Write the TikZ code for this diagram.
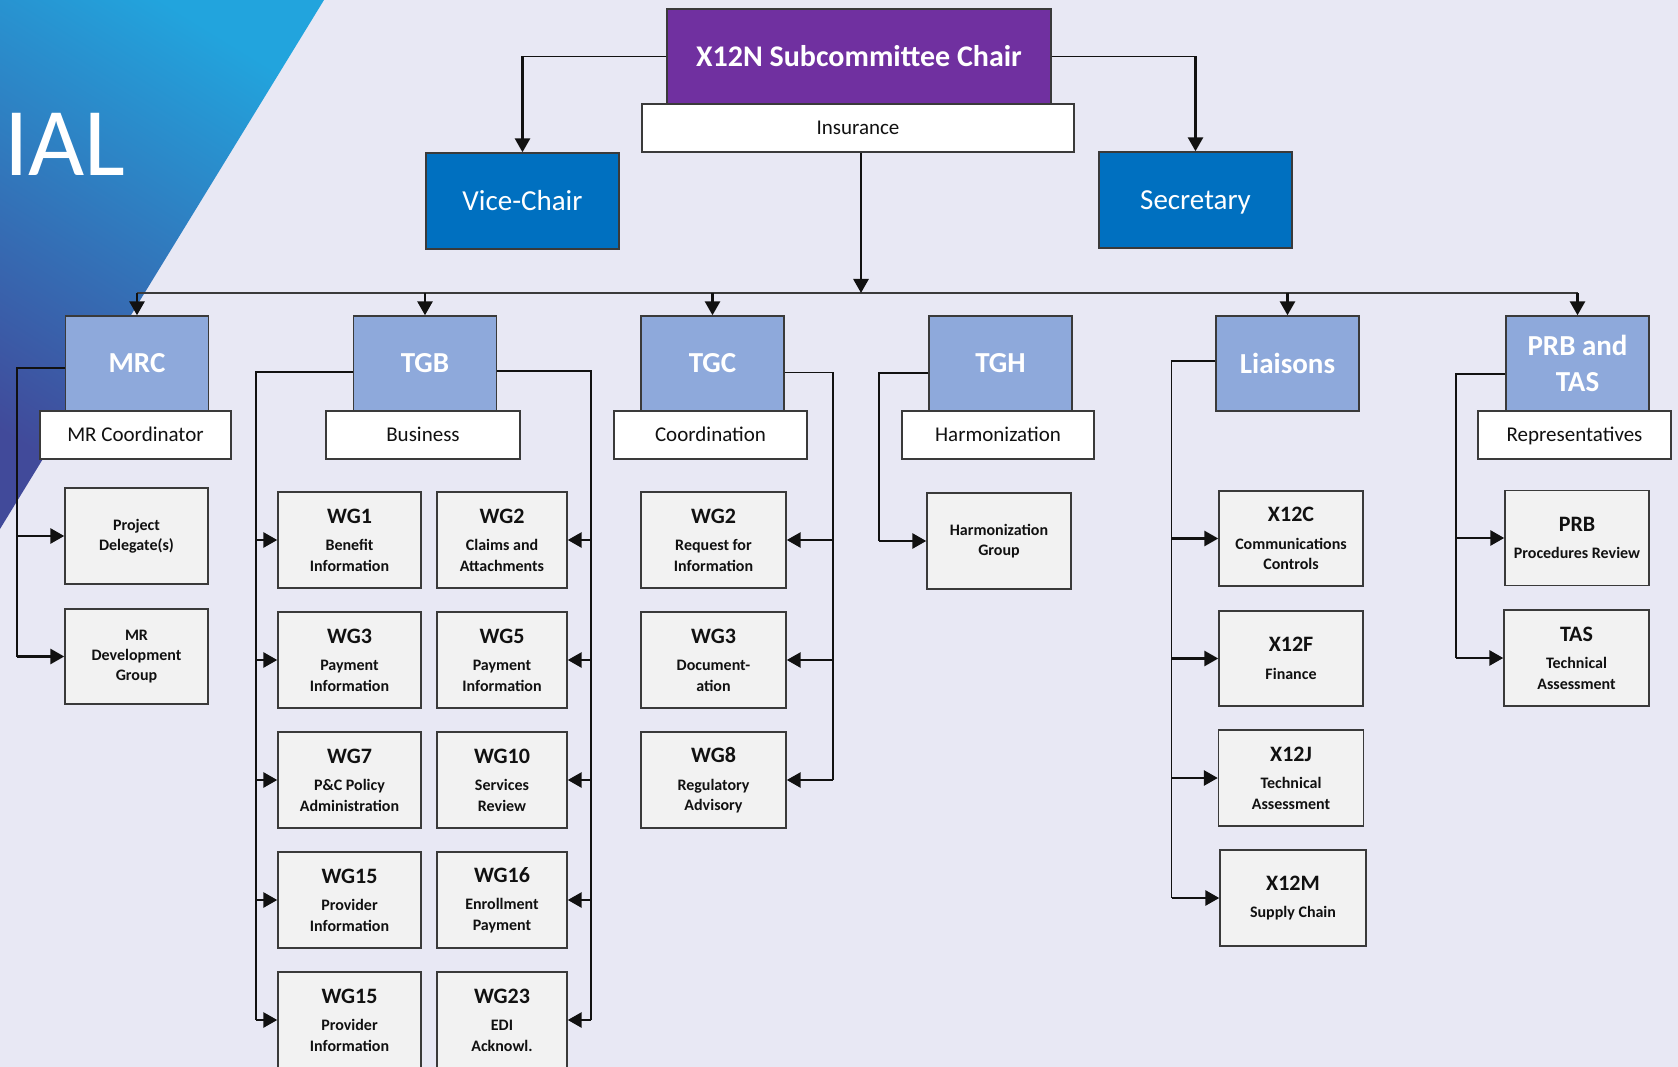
\documentclass[tikz,border=0pt]{standalone}
\usepackage{fontspec}
\setmainfont{Carlito}
\usetikzlibrary{arrows.meta,calc}
\definecolor{bg}{HTML}{E8E8F4}
\definecolor{purp}{HTML}{7030A0}
\definecolor{offblue}{HTML}{0070C0}
\definecolor{grpblue}{HTML}{8EA9DB}
\definecolor{subgray}{HTML}{F2F2F2}
\definecolor{bord}{HTML}{3A3A3A}
\definecolor{triT}{HTML}{22A4DD}
\definecolor{triB}{HTML}{414A9A}
\definecolor{ink}{HTML}{111111}
\newcommand{\wgt}[1]{{\fontsize{22}{20.3}\selectfont #1}\\[7.4pt]}
\begin{document}
\begin{tikzpicture}[x=1pt,y=-1pt,
  box/.style={draw=bord, line width=1.4pt, inner sep=0pt, align=center},
  chairbox/.style={box, fill=purp, text=white, minimum width=384pt, minimum height=95pt, font=\fontsize{30}{36}\selectfont\bfseries, text height=19.3pt, text depth=0pt},
  offbox/.style={box, fill=offblue, text=white, minimum width=193pt, minimum height=96pt, font=\fontsize{29}{34}\selectfont, text height=18.7pt, text depth=0pt},
  grpbox/.style={box, fill=grpblue, text=white, minimum width=143pt, minimum height=95pt, font=\fontsize{29}{36}\selectfont\bfseries},
  labbox/.style={box, fill=white, text=ink, minimum width=193pt, minimum height=48pt, font=\fontsize{21}{25}\selectfont, text height=13.5pt, text depth=0pt},
  subbox/.style={box, fill=subgray, text=ink, minimum height=96pt, font=\fontsize{16}{20.3}\selectfont\bfseries},
  trunk/.style={draw=ink, line width=1.5pt},
  busline/.style={draw=bord, line width=2pt},
  stub/.style={draw=ink, line width=2.8pt, -{Triangle[length=14pt,width=15pt]}}
]
\useasboundingbox (0,0) rectangle (1678,1067);
\clip (0,0) rectangle (1678,1067);
\fill[bg] (0,0) rectangle (1678,1067);
% gradient triangle
\begin{scope}
  \clip (0,0) -- (324,0) -- (0,529) -- cycle;
  \shade[bottom color=triB, top color=triT, shading angle=-31.5] (0,0) rectangle (324,529);
\end{scope}
\node[anchor=base west, inner sep=0pt, text=white, font=\fontsize{97}{97}\selectfont] (ial) at (4,176) {IAL};

% top level
\node[chairbox] (chair) at (859,56.5) {X12N Subcommittee Chair};
\node[labbox, minimum width=432pt] (ins) at (858,128) {Insurance};
\node[offbox] (vice) at (522.5,201) {Vice-Chair};
\node[offbox] (sec) at (1195.5,200) {Secretary};

% groups
\node[grpbox] (mrc) at (137,363.5) {MRC};
\node[grpbox] (tgb) at (425,363.5) {TGB};
\node[grpbox] (tgc) at (712.5,363.5) {TGC};
\node[grpbox] (tgh) at (1000.5,363.5) {TGH};
\node[grpbox] (lia) at (1287.5,363.5) {Liaisons};
\node[grpbox] (prb) at (1577.5,363.5) {PRB and\\TAS};

\node[labbox, minimum width=191pt] (mrcl) at (135.5,435) {MR Coordinator};
\node[labbox, minimum width=194pt] (tgbl) at (423,435) {Business};
\node[labbox] (tgcl) at (710.5,435) {Coordination};
\node[labbox, minimum width=192pt] (tghl) at (998,435) {Harmonization};
\node[labbox] (prbl) at (1574.5,435) {Representatives};

% MRC children
\node[subbox, minimum width=143pt] (m1) at (136.5,536) {Project\\Delegate(s)};
\node[subbox, minimum width=143pt, minimum height=95pt] (m2) at (136.5,656.5) {MR\\Development\\Group};

% TGB children
\node[subbox, minimum width=143pt] (b1) at (349.5,540) {\wgt{WG1}Benefit\\Information};
\node[subbox, minimum width=143pt] (b3) at (349.5,660) {\wgt{WG3}Payment\\Information};
\node[subbox, minimum width=143pt] (b7) at (349.5,780) {\wgt{WG7}P\&C Policy\\Administration};
\node[subbox, minimum width=143pt] (b15) at (349.5,900) {\wgt{WG15}Provider\\Information};
\node[subbox, minimum width=143pt] (b15b) at (349.5,1020) {\wgt{WG15}Provider\\Information};
\node[subbox, minimum width=130pt] (b2) at (502,540) {\wgt{WG2}Claims and\\Attachments};
\node[subbox, minimum width=130pt] (b5) at (502,660) {\wgt{WG5}Payment\\Information};
\node[subbox, minimum width=130pt] (b10) at (502,780) {\wgt{WG10}Services\\Review};
\node[subbox, minimum width=130pt] (b16) at (502,900) {\wgt{WG16}Enrollment\\Payment};
\node[subbox, minimum width=130pt] (b23) at (502,1020) {\wgt{WG23}EDI\\Acknowl.};

% TGC children
\node[subbox, minimum width=145pt] (c2) at (713.5,540) {\wgt{WG2}Request for\\Information};
\node[subbox, minimum width=145pt] (c3) at (713.5,660) {\wgt{WG3}Document-\\ation};
\node[subbox, minimum width=145pt] (c8) at (713.5,780) {\wgt{WG8}Regulatory\\Advisory};

% TGH child
\node[subbox, minimum width=144pt] (h1) at (999,541) {Harmonization\\Group};

% Liaisons children
\node[subbox, minimum width=144pt, minimum height=95pt] (l1) at (1291,538.5) {\wgt{X12C}Communications\\Controls};
\node[subbox, minimum width=144pt, minimum height=95pt] (l2) at (1291,658.5) {\wgt{X12F}Finance};
\node[subbox, minimum width=145pt] (l3) at (1291,778) {\wgt{X12J}Technical\\Assessment};
\node[subbox, minimum width=146pt] (l4) at (1293,898) {\wgt{X12M}Supply Chain};

% PRB children
\node[subbox, minimum width=144pt, minimum height=95pt] (p1) at (1577,538) {\wgt{PRB}Procedures Review};
\node[subbox, minimum width=145pt] (p2) at (1576.5,658) {\wgt{TAS}Technical\\Assessment};

% connectors: chair
\coordinate (vc) at (vice.north |- chair.west);
\draw[trunk] (chair.west) -- (vc);
\draw[stub] (vc) -- (vice.north);
\coordinate (sc) at (sec.north |- chair.east);
\draw[trunk] (chair.east) -- (sc);
\draw[stub] (sc) -- (sec.north);

% bus
\coordinate (busy) at (0,293);
\draw[busline] (mrc.north |- busy) -- (prb.north |- busy);
\draw[stub] ([xshift=3pt]ins.south) -- ([xshift=3pt]ins.south |- busy);
\foreach \g in {mrc,tgb,tgc,lia,prb}
  \draw[stub] (\g.north |- busy) -- (\g.north);

% MRC
\coordinate (mrcx) at (17,0);
\draw[trunk] ([yshift=-4.5pt]mrc.west) -| (mrcx |- m2.west);
\foreach \n in {m1,m2} \draw[stub] (mrcx |- \n.west) -- (\n.west);

% TGB
\coordinate (tgbL) at (256,0);
\coordinate (tgbR) at (591,0);
\draw[trunk] ([yshift=-8.5pt]tgb.west) -| (tgbL |- b15b.west);
\foreach \n in {b1,b3,b7,b15,b15b} \draw[stub] (tgbL |- \n.west) -- (\n.west);
\draw[trunk] ([yshift=-7.5pt]tgb.east) -| (tgbR |- b23.east);
\foreach \n in {b2,b5,b10,b16,b23} \draw[stub] (tgbR |- \n.east) -- (\n.east);

% TGC
\coordinate (tgcR) at (833,0);
\draw[trunk] ([yshift=-9pt]tgc.east) -| (tgcR |- c8.east);
\foreach \n in {c2,c3,c8} \draw[stub] (tgcR |- \n.east) -- (\n.east);

% TGH
\coordinate (tghL) at (879,0);
\draw[trunk] ([yshift=-9.5pt]tgh.west) -| (tghL |- h1.west);
\draw[stub] (tghL |- h1.west) -- (h1.west);

% Liaisons
\coordinate (liaL) at (1171.5,0);
\draw[trunk] ([yshift=2.5pt]lia.west) -| (liaL |- l4.west);
\foreach \n in {l1,l2,l3,l4} \draw[stub] (liaL |- \n.west) -- (\n.west);

% PRB
\coordinate (prbL) at (1456,0);
\draw[trunk] ([yshift=-10.5pt]prb.west) -| (prbL |- p2.west);
\foreach \n in {p1,p2} \draw[stub] (prbL |- \n.west) -- (\n.west);
\end{tikzpicture}
\end{document}
